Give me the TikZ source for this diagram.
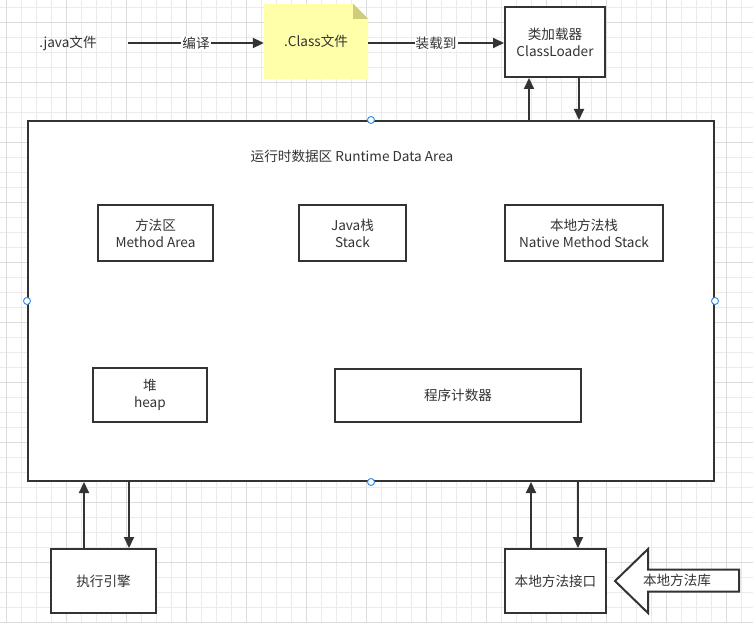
\documentclass[tikz,border=0pt]{standalone}
\usepackage{fontspec}
\setmainfont{Noto Sans CJK SC}
\usetikzlibrary{arrows.meta,calc}
\definecolor{ink}{HTML}{333333}
\definecolor{gridminor}{HTML}{EBEBEB}
\definecolor{gridmajor}{HTML}{DCDCDC}
\definecolor{notefill}{HTML}{FFFFAA}
\definecolor{notefold}{HTML}{CDCD7A}
\definecolor{handle}{HTML}{2A8CF0}
\begin{document}
\begin{tikzpicture}[x=1pt,y=-1pt,
  every node/.style={font=\fontsize{13.6}{17}\selectfont, text=ink, align=center, inner sep=0pt},
  box/.style={draw=ink, line width=2pt, fill=white},
  arr/.style={draw=ink, line width=2pt, -{Triangle[length=11pt,width=10pt]}},
  lbl/.style={fill=white, inner sep=1pt},
  hdl/.style={draw=handle, fill=white, line width=0.9pt}
]
\useasboundingbox (0,0) rectangle (753,623);
\fill[white] (0,0) rectangle (753,623);
% grid
\foreach \x in {6,21,...,753} \draw[gridminor, line width=0.8pt] (\x,0) -- (\x,623);
\foreach \y in {7,22,...,623} \draw[gridminor, line width=0.8pt] (0,\y) -- (753,\y);
\foreach \x in {6,66,...,753} \draw[gridmajor, line width=0.9pt] (\x,0) -- (\x,623);
\foreach \y in {22,82,...,623} \draw[gridmajor, line width=0.9pt] (0,\y) -- (753,\y);

% top row
\node[minimum width=120pt, minimum height=20pt] (java) at (68,43) {.java文件};
\node[minimum width=104pt, minimum height=75pt] (note) at (316,41.5) {};
\fill[notefill] (note.north west) -- ([xshift=-15pt]note.north east) -- ([yshift=-15pt]note.north east) -- (note.south east) -- (note.south west) -- cycle;
\fill[notefold] ([xshift=-15pt]note.north east) -- ([yshift=-15pt]note.north east) -- ([xshift=-15pt,yshift=-15pt]note.north east) -- cycle;
\node at (note.center) {.Class文件};
\node[box, minimum width=100pt, minimum height=70pt] (cl) at (555,42) {类加载器\\ClassLoader};

\draw[arr] (java.east) -- node[lbl] {编译} (note.west |- java.east);
\draw[arr] (note.east |- java.east) -- node[lbl] {装载到} (cl.west |- java.east);

% runtime data area
\node[box, minimum width=686pt, minimum height=360pt] (big) at (371,301) {};
\node (title) at (352,156) {运行时数据区 Runtime Data Area};
\node[box, minimum width=115pt, minimum height=56pt] (ma) at (155.5,233) {方法区\\Method Area};
\node[box, minimum width=107pt, minimum height=56pt] (js) at (352.5,233) {Java栈\\Stack};
\node[box, minimum width=158pt, minimum height=56pt] (nms) at (584,233) {本地方法栈\\Native Method Stack};
\node[box, minimum width=114pt, minimum height=54pt] (heap) at (150,395) {堆\\heap};
\node[box, minimum width=246pt, minimum height=53pt] (pc) at (458,395.5) {程序计数器};

% class loader <-> big
\draw[arr] ([xshift=-26pt]cl.south |- big.north) -- ([xshift=-26pt]cl.south);
\draw[arr] ([xshift=24pt]cl.south) -- ([xshift=24pt]cl.south |- big.north);

% bottom
\node[box, minimum width=105pt, minimum height=64pt] (exec) at (103.5,581) {执行引擎};
\node[box, minimum width=101pt, minimum height=64pt] (nif) at (555.5,581) {本地方法接口};
\draw[arr] ([xshift=-19.5pt]exec.north) -- ([xshift=-19.5pt]exec.north |- big.south);
\draw[arr] ([xshift=25.5pt]exec.north |- big.south) -- ([xshift=25.5pt]exec.north);
\draw[arr] ([xshift=-24.5pt]nif.north) -- ([xshift=-24.5pt]nif.north |- big.south);
\draw[arr] ([xshift=22.5pt]nif.north |- big.south) -- ([xshift=22.5pt]nif.north);

% native library block arrow
\coordinate (tip) at (615,581);
\draw[ink, line width=2pt, fill=white, line join=miter] (tip) -- (648,549) -- (648,569.5) -- (739,569.5) -- (739,591.5) -- (648,591.5) -- (648,613) -- cycle;
\node (lib) at (677,580) {本地方法库};

% selection handles
\foreach \p in {big.north, big.south, big.west, big.east}
  \draw[hdl] (\p) circle (3.5pt);
\end{tikzpicture}
\end{document}
